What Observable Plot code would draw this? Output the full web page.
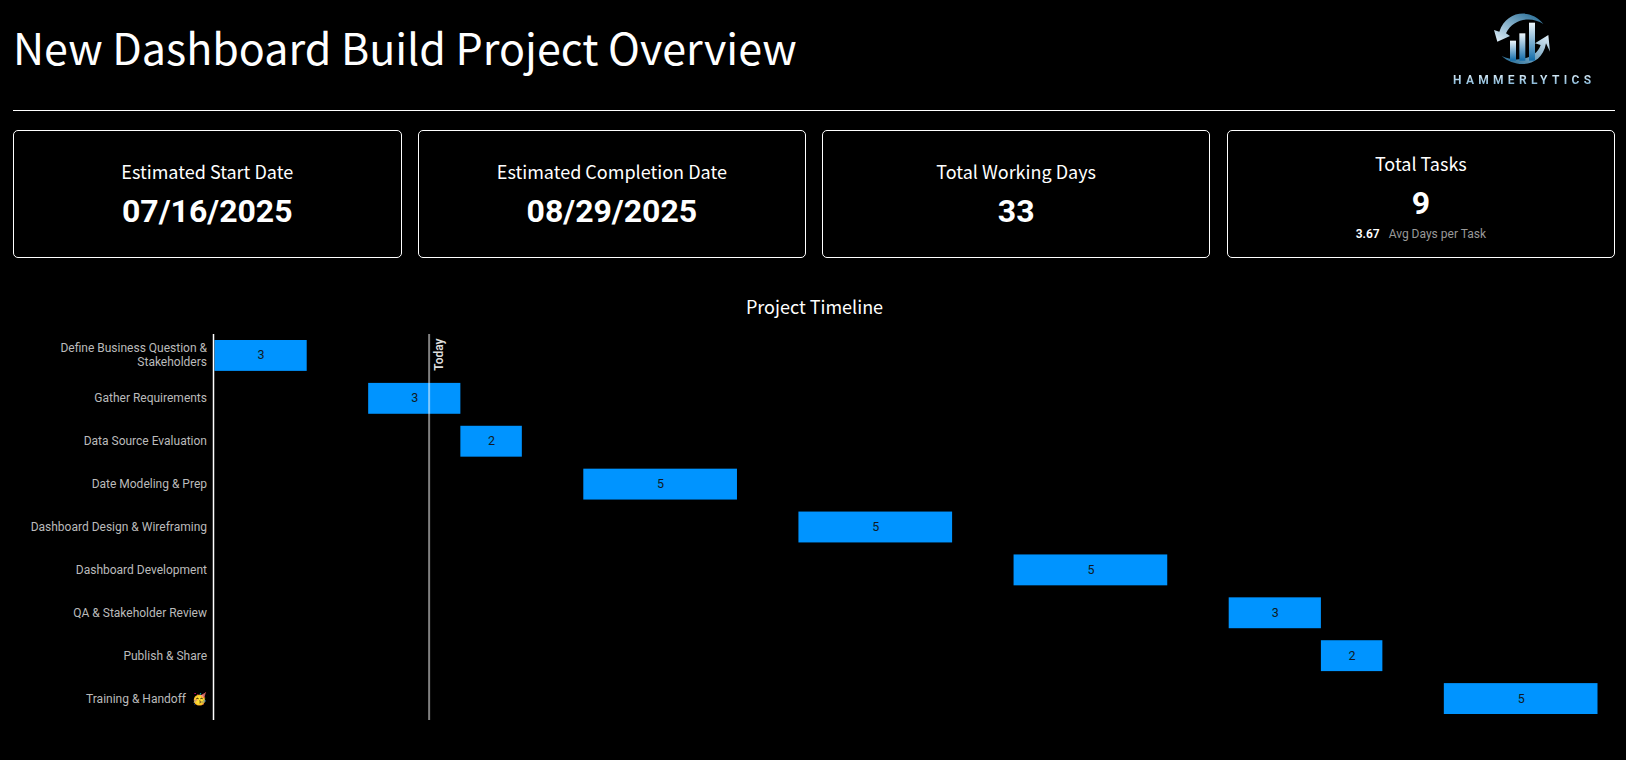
<!DOCTYPE html>
<html><head><meta charset="utf-8">
<script src="https://cdn.jsdelivr.net/npm/d3@7"></script>
<script src="https://cdn.jsdelivr.net/npm/@observablehq/plot@0.6"></script>
<style>
html,body{margin:0;padding:0;background:#000;color:#fff;font-family:"Noto Sans CJK SC",sans-serif;width:1626px;height:760px;overflow:hidden}
#title{position:absolute;left:13px;top:13px;font-size:43px;line-height:66px}
#rule{position:absolute;left:13px;top:109.5px;width:1602px;height:1px;background:#fff}
.card{position:absolute;top:130px;height:128px;width:388.5px;box-sizing:border-box;border:1px solid #fff;border-radius:5px;text-align:center}
.card .l{position:absolute;left:0;right:0;top:27px;font-size:18px;line-height:26px}
.card .v{position:absolute;left:0;right:0;top:59px;font-size:32px;line-height:42px;font-family:Roboto;font-weight:700}
.sub{position:absolute;left:0;right:0;top:95px;font-size:12px;line-height:16px;font-family:Roboto;color:#999}
.sub b{color:#fff;margin-right:6px;font-weight:600}
#ct{position:absolute;left:3px;right:0;top:293px;text-align:center;font-size:18px;line-height:26px;font-weight:400}
#chart{position:absolute;left:0;top:334px}
#logo{position:absolute;left:1453px;top:73px;width:150px;font:700 12px Roboto;letter-spacing:4.3px;white-space:nowrap;background:linear-gradient(#e4f2fb,#6fa9cf);-webkit-background-clip:text;background-clip:text;color:transparent}
#mark{position:absolute;left:1400px;top:0}
</style></head><body>
<div id="title">New Dashboard Build Project Overview</div>
<svg id="mark" width="226" height="120" viewBox="0 0 678 360">
<defs>
<linearGradient id="b" x1="0" y1="0" x2="0" y2="1"><stop offset="0" stop-color="#eef7fc"/><stop offset="1" stop-color="#0f6aa8"/></linearGradient>
<linearGradient id="t" x1="1" y1="0" x2="0" y2="1"><stop offset="0" stop-color="#1a6490"/><stop offset="1" stop-color="#e4f2fb"/></linearGradient>
<linearGradient id="u" x1="0" y1="1" x2="1" y2="0"><stop offset="0" stop-color="#1a6490"/><stop offset="1" stop-color="#e4f2fb"/></linearGradient>
</defs>
<path d="M430 72C395 25 320 30 298 95L282 90L292 125L330 108L318 100C340 55 395 48 430 72Z" fill="url(#t)"/>
<path d="M305 168C345 205 425 205 438 130L450 155L445 105L405 130L422 135C410 175 350 190 305 168Z" fill="url(#u)"/>
<rect x="330" y="122" width="18" height="60" fill="url(#b)"/><rect x="358" y="100" width="18" height="82" fill="url(#b)"/><rect x="387" y="68" width="18" height="114" fill="url(#b)"/>
</svg>
<div id="logo">HAMMERLYTICS</div>
<div id="rule"></div>
<div id="cards"></div>
<div id="ct">Project Timeline</div>
<div id="chart"></div>
<script>
const tasks=["Define Business Question & Stakeholders","Gather Requirements","Data Source Evaluation","Date Modeling & Prep","Dashboard Design & Wireframing","Dashboard Development","QA & Stakeholder Review","Publish & Share","Training & Handoff  🥳"];
const starts=["2025-07-16","2025-07-21","2025-07-24","2025-07-28","2025-08-04","2025-08-11","2025-08-18","2025-08-21","2025-08-25"];
const ends=["2025-07-19","2025-07-24","2025-07-26","2025-08-02","2025-08-09","2025-08-16","2025-08-21","2025-08-23","2025-08-30"];
const days=[3,3,2,5,5,5,3,2,5];
const today="2025-07-23";
const cardLabels=["Estimated Start Date","Estimated Completion Date","Total Working Days","Total Tasks"];
const cardValues=["07/16/2025","08/29/2025","33","9"];
const cardLefts=[13,417.6,821.9,1226.6];
const rows=tasks.map((t,i)=>({t,s:new Date(starts[i]),e:new Date(ends[i]),d:days[i],i}));
cardLabels.forEach((l,i)=>{
 const c=document.createElement("div");c.className="card";c.style.left=cardLefts[i]+"px";
 c.innerHTML=`<div class="l" style="${i==3?'top:19px':''}">${l}</div><div class="v" style="${i==3?'top:51px':''}">${cardValues[i]}</div>`+(i==3?`<div class="sub"><b>3.67</b> Avg Days per Task</div>`:"");
 document.getElementById("cards").append(c);
});
const wrap=t=>t.startsWith("Define")?"Define Business Question &\nStakeholders":t;
const plot=Plot.plot({
 width:1626,height:386,marginLeft:214.5,marginRight:28.5,marginTop:0,marginBottom:0,
 style:{background:"#000",color:"#ddd",fontFamily:"Roboto",fontSize:"12px"},
 x:{domain:[new Date("2025-07-16"),new Date("2025-08-30")],axis:null},
 y:{domain:tasks,axis:null,paddingInner:0.28,paddingOuter:0.14,round:false},
 marks:[
  Plot.barX(rows,{x1:"s",x2:"e",y:"t",fill:"#0094ff"}),
  Plot.ruleX([new Date("2025-07-16")],{stroke:"#fff",strokeWidth:1.5,dx:-1.5}),
  Plot.ruleX([new Date(today)],{stroke:"#fff",strokeOpacity:0.5,strokeWidth:2,dx:-1}),
  Plot.text(rows,{x:d=>new Date((+d.s+ +d.e)/2),y:"t",text:"d",dy:-0.5,fill:"#111a22",fontSize:12.5}),
  Plot.text(rows,{x:()=>new Date("2025-07-16"),y:"t",text:d=>wrap(d.t),textAnchor:"end",dx:-8,dy:-1,fill:"#bbb",fontSize:12,lineHeight:1.17}),
  Plot.text(["Today"],{x:()=>new Date(today),text:d=>d,rotate:-90,dx:4.5,dy:4,textAnchor:"end",fill:"#ddd",fontWeight:600,fontSize:12,frameAnchor:"top"})
 ]});
document.getElementById("chart").append(plot);
</script></body></html>
